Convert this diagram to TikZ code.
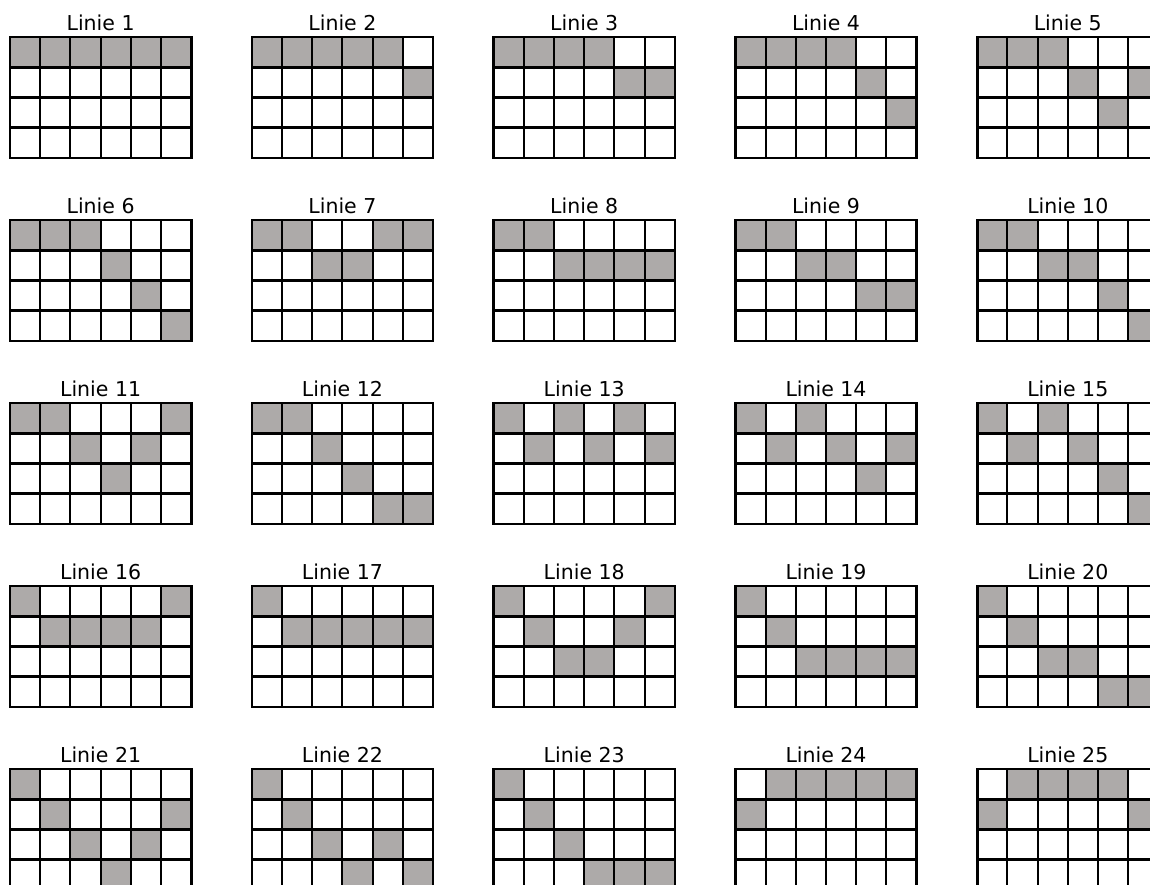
\documentclass[tikz,border=0pt]{standalone}
\usepackage{fontspec}
\setmainfont{DejaVu Sans}
\usepackage{tikz}
\definecolor{shadegray}{RGB}{173,170,169}

% one 6x4 pattern: #1 = number, #2 = column, #3 = row, #4 = shaded cells (c/r)
\newcommand{\liniegrid}[4]{%
  \begin{scope}[shift={({10+(#2-1)*241.8},{37+(#3-1)*183})}]
    \foreach \c/\r in {#4}
      \fill[shaded] ({(\c-1)*30.2},{(\r-1)*30.25}) rectangle ++(30.2,30.25);
    \foreach \c in {1,...,5}
      \draw[innerline] ({\c*30.2},0) -- ({\c*30.2},121);
    \foreach \r in {0,...,4}
      \draw[outerline] (0,{\r*30.25}) -- (181.2,{\r*30.25});
    \draw[outerline] (0,0) -- (0,121);
    \draw[outerline] (181.2,0) -- (181.2,121);
    \node[lbl] (lbl#1) at (90.6,-6.5) {Linie #1};
  \end{scope}}

\begin{document}
\begin{tikzpicture}[x=1pt, y=-1pt,
    shaded/.style={fill=shadegray},
    innerline/.style={line width=2pt, black},
    outerline/.style={line width=2.6pt, black, line cap=rect},
    lbl/.style={anchor=base, inner sep=0pt, font=\fontsize{20.5}{24}\selectfont}]
  \useasboundingbox (0,0) rectangle (1150,884);
  \clip (0,0) rectangle (1150,884);
  % row 1
  \liniegrid{1}{1}{1}{1/1,2/1,3/1,4/1,5/1,6/1}
  \liniegrid{2}{2}{1}{1/1,2/1,3/1,4/1,5/1,6/2}
  \liniegrid{3}{3}{1}{1/1,2/1,3/1,4/1,5/2,6/2}
  \liniegrid{4}{4}{1}{1/1,2/1,3/1,4/1,5/2,6/3}
  \liniegrid{5}{5}{1}{1/1,2/1,3/1,4/2,6/2,5/3}
  % row 2
  \liniegrid{6}{1}{2}{1/1,2/1,3/1,4/2,5/3,6/4}
  \liniegrid{7}{2}{2}{1/1,2/1,5/1,6/1,3/2,4/2}
  \liniegrid{8}{3}{2}{1/1,2/1,3/2,4/2,5/2,6/2}
  \liniegrid{9}{4}{2}{1/1,2/1,3/2,4/2,5/3,6/3}
  \liniegrid{10}{5}{2}{1/1,2/1,3/2,4/2,5/3,6/4}
  % row 3
  \liniegrid{11}{1}{3}{1/1,2/1,6/1,3/2,5/2,4/3}
  \liniegrid{12}{2}{3}{1/1,2/1,3/2,4/3,5/4,6/4}
  \liniegrid{13}{3}{3}{1/1,3/1,5/1,2/2,4/2,6/2}
  \liniegrid{14}{4}{3}{1/1,3/1,2/2,4/2,6/2,5/3}
  \liniegrid{15}{5}{3}{1/1,3/1,2/2,4/2,5/3,6/4}
  % row 4
  \liniegrid{16}{1}{4}{1/1,6/1,2/2,3/2,4/2,5/2}
  \liniegrid{17}{2}{4}{1/1,2/2,3/2,4/2,5/2,6/2}
  \liniegrid{18}{3}{4}{1/1,6/1,2/2,5/2,3/3,4/3}
  \liniegrid{19}{4}{4}{1/1,2/2,3/3,4/3,5/3,6/3}
  \liniegrid{20}{5}{4}{1/1,2/2,3/3,4/3,5/4,6/4}
  % row 5
  \liniegrid{21}{1}{5}{1/1,2/2,6/2,3/3,5/3,4/4}
  \liniegrid{22}{2}{5}{1/1,2/2,3/3,5/3,4/4,6/4}
  \liniegrid{23}{3}{5}{1/1,2/2,3/3,4/4,5/4,6/4}
  \liniegrid{24}{4}{5}{2/1,3/1,4/1,5/1,6/1,1/2}
  \liniegrid{25}{5}{5}{2/1,3/1,4/1,5/1,1/2,6/2}
\end{tikzpicture}
\end{document}
